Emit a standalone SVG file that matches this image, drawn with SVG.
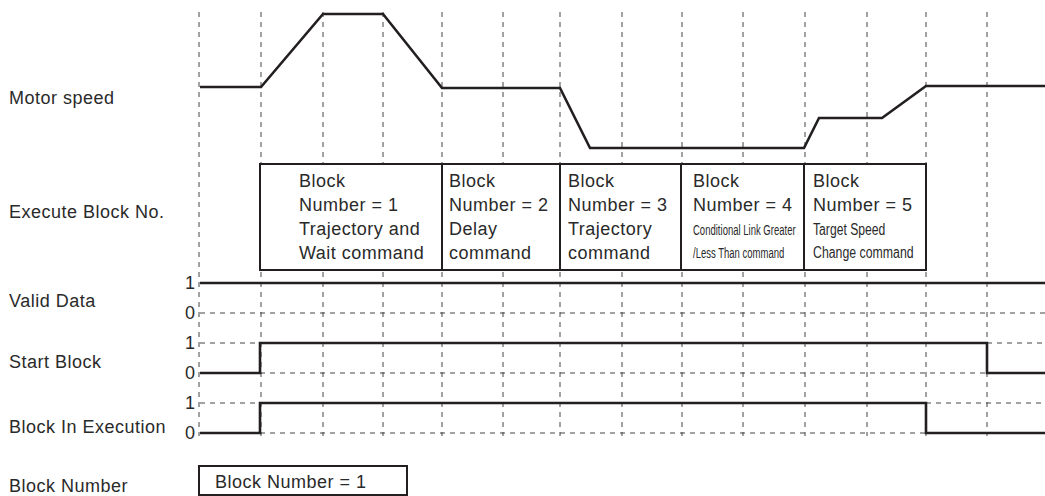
<svg xmlns="http://www.w3.org/2000/svg" width="1045" height="496" viewBox="0 0 1045 496">
<style>
.grid{stroke:#444;stroke-width:1;stroke-dasharray:5 5;fill:none}
.sig{stroke:#231f20;stroke-width:2.6;fill:none;stroke-linejoin:miter}
.box{stroke:#231f20;stroke-width:2;fill:#fff}
.div{stroke:#231f20;stroke-width:2}
text{font-family:"Liberation Sans",Arial,sans-serif;fill:#2a2a2a}
.lbl{font-size:18px;letter-spacing:0.5px}
.lv{font-size:18px;text-anchor:end}
.bt{font-size:18px;letter-spacing:0.5px}
.sm{font-size:14px}
.sm5{font-size:16px}
</style>
<rect width="1045" height="496" fill="#fff"/>
<g id="grid">
<path class="grid" d="M199 12V436M261 12V436M323 12V436M383 12V436M442 12V436M503 12V436M560 12V436M622 12V436M682 12V436M743 12V436M805 12V436M867 12V436M926 12V436M987 12V436"/>
<path class="grid" d="M200 313H1045M200 343H260M987 343H1045M260 373H987M200 403H260M926 403H1045M260 433H926"/>
</g>
<g id="labels">
<text class="lbl" x="9" y="104">Motor speed</text>
<text class="lbl" x="9" y="218">Execute Block No.</text>
<text class="lbl" x="9" y="307">Valid Data</text>
<text class="lbl" x="9" y="368">Start Block</text>
<text class="lbl" x="9" y="433">Block In Execution</text>
<text class="lbl" x="9" y="492">Block Number</text>
<text class="lv" x="195" y="289">1</text>
<text class="lv" x="195" y="319">0</text>
<text class="lv" x="195" y="349">1</text>
<text class="lv" x="195" y="379">0</text>
<text class="lv" x="195" y="409">1</text>
<text class="lv" x="195" y="439">0</text>
</g>
<g id="motor-speed">
<path class="sig" d="M200 87H261L323 14H383L442 88H560L590 148H804L819 118H882L926 86H1045"/>
</g>
<g id="execute-blocks">
<rect class="box" x="260" y="164" width="666" height="106"/>
<path class="div" d="M442 164V270M560 164V270M681 164V270M804 164V270"/>
<g id="block1">
<text class="bt" x="299" y="187">Block</text>
<text class="bt" x="299" y="211">Number = 1</text>
<text class="bt" x="299" y="235">Trajectory and</text>
<text class="bt" x="299" y="259">Wait command</text>
</g>
<g id="block2">
<text class="bt" x="449" y="187">Block</text>
<text class="bt" x="449" y="211">Number = 2</text>
<text class="bt" x="449" y="235">Delay</text>
<text class="bt" x="449" y="259">command</text>
</g>
<g id="block3">
<text class="bt" x="568" y="187">Block</text>
<text class="bt" x="568" y="211">Number = 3</text>
<text class="bt" x="568" y="235">Trajectory</text>
<text class="bt" x="568" y="259">command</text>
</g>
<g id="block4">
<text class="bt" x="693" y="187">Block</text>
<text class="bt" x="693" y="211">Number = 4</text>
<text class="sm" transform="translate(693 235) scale(0.68 1)" x="0" y="0">Conditional Link Greater</text>
<text class="sm" transform="translate(693 258) scale(0.68 1)" x="0" y="0">/Less Than command</text>
</g>
<g id="block5">
<text class="bt" x="813" y="187">Block</text>
<text class="bt" x="813" y="211">Number = 5</text>
<text class="sm5" transform="translate(813 235) scale(0.76 1)" x="0" y="0">Target Speed</text>
<text class="sm5" transform="translate(813 258) scale(0.77 1)" x="0" y="0">Change command</text>
</g>
</g>
<g id="valid-data">
<path class="sig" d="M200 283H1045"/>
</g>
<g id="start-block">
<path class="sig" d="M200 373H260V343H987V373H1045"/>
</g>
<g id="block-in-execution">
<path class="sig" d="M200 433H260V403H926V433H1045"/>
</g>
<g id="block-number">
<rect class="box" x="199" y="466" width="208" height="29"/>
<text class="bt" x="215" y="488">Block Number = 1</text>
</g>
</svg>
